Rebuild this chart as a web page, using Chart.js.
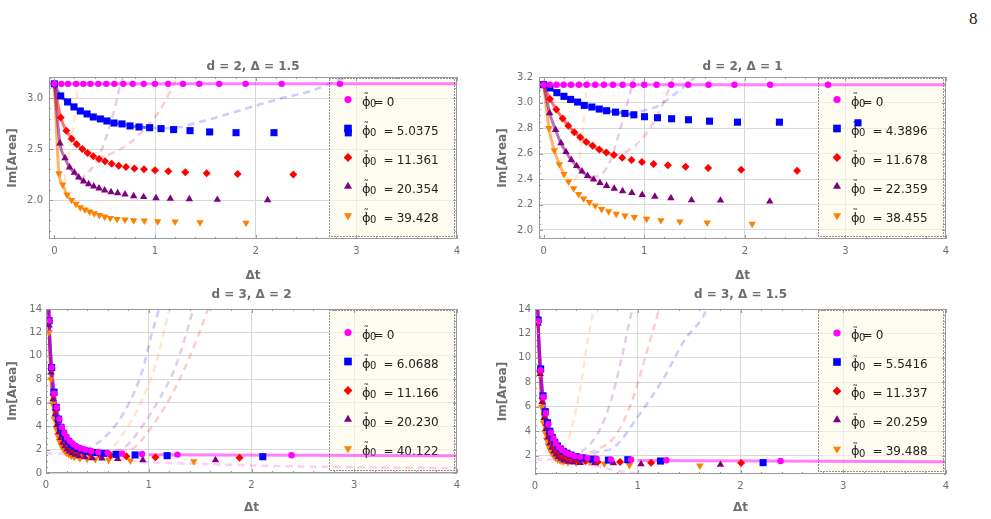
<!DOCTYPE html>
<html>
<head>
<meta charset="utf-8">
<title>Im[Area] vs Δt</title>
<script src="https://cdn.jsdelivr.net/npm/chart.js@4.4.1/dist/chart.umd.min.js"></script>
<style>
  html, body { margin: 0; padding: 0; background: #fff; }
  body { position: relative; width: 991px; height: 519px; overflow: hidden; }
  .panel { position: absolute; }
  #pageNo { position: absolute; left: 969px; top: 9px; font: 17px "Liberation Serif", "DejaVu Serif", serif; color: #222; }
</style>
</head>
<body>
<div id="pageNo">8</div>
<canvas id="p1" class="panel" width="475" height="235" style="left:0px;top:50px"></canvas>
<canvas id="p2" class="panel" width="474" height="235" style="left:490px;top:50px"></canvas>
<canvas id="p3" class="panel" width="475" height="239" style="left:0px;top:280px"></canvas>
<canvas id="p4" class="panel" width="474" height="239" style="left:490px;top:280px"></canvas>
<script>
// ---- data ----
const seriesColors = ['#ff00ff', '#0000ff', '#ff0000', '#800080', '#ff8000'];
const fitColors = ['rgba(255,0,255,0.5)', 'rgba(0,0,255,0.5)', 'rgba(255,0,0,0.55)', 'rgba(128,0,128,0.55)', 'rgba(255,128,0,0.6)'];
const dashColors = ['rgba(255,0,255,0.2)', 'rgba(0,0,255,0.2)', 'rgba(255,0,0,0.2)', 'rgba(128,0,128,0.2)', 'rgba(255,128,0,0.2)'];
const markerStyles = ['circle', 'rect', 'rectRot', 'triangle', 'triangle'];
const markerRotations = [0, 0, 0, 0, 180];
const markerRadii = [3.2, 5, 4, 4.3, 4.3];

const xTicks = [0, 1, 2, 3, 4];

// d = 2, Δ = 1.5
const p1Title = 'd = 2, \u0394 = 1.5';
const p1Phi = ['0', '5.0375', '11.361', '20.354', '39.428'];
const p1YTicks = [2.0, 2.5, 3.0];
const p1MagX = [0, 0.07, 0.136, 0.216, 0.288, 0.358, 0.437, 0.516, 0.596, 0.685, 0.778, 0.888, 1.0, 1.13, 1.278, 1.44, 1.638, 1.9, 2.258, 2.837];
const p1MagY = [3.1416, 3.1416, 3.1416, 3.1416, 3.1416, 3.1416, 3.1416, 3.1416, 3.1416, 3.1416, 3.1416, 3.1416, 3.1416, 3.1416, 3.1416, 3.1416, 3.1416, 3.1416, 3.1416, 3.1416];
const p1BluX = [0, 0.063, 0.132, 0.195, 0.258, 0.325, 0.387, 0.457, 0.523, 0.593, 0.672, 0.752, 0.841, 0.947, 1.06, 1.185, 1.348, 1.543, 1.805, 2.182, 2.92];
const p1BluY = [3.1416, 3.023, 2.964, 2.915, 2.875, 2.846, 2.816, 2.797, 2.777, 2.757, 2.748, 2.728, 2.718, 2.711, 2.702, 2.692, 2.682, 2.669, 2.662, 2.662, 2.66];
const p1RedX = [0, 0.063, 0.119, 0.172, 0.222, 0.278, 0.331, 0.387, 0.444, 0.503, 0.57, 0.639, 0.712, 0.795, 0.891, 1.0, 1.132, 1.301, 1.513, 1.821, 2.374];
const p1RedY = [3.1416, 2.81, 2.682, 2.603, 2.548, 2.502, 2.462, 2.43, 2.403, 2.38, 2.357, 2.338, 2.325, 2.311, 2.302, 2.292, 2.282, 2.272, 2.262, 2.256, 2.252];
const p1PurX = [0, 0.056, 0.106, 0.152, 0.199, 0.242, 0.291, 0.341, 0.391, 0.444, 0.5, 0.563, 0.629, 0.702, 0.788, 0.887, 1.01, 1.152, 1.341, 1.619, 2.119];
const p1PurY = [3.1416, 2.557, 2.413, 2.321, 2.269, 2.223, 2.184, 2.157, 2.134, 2.115, 2.095, 2.079, 2.069, 2.056, 2.039, 2.03, 2.02, 2.013, 2.01, 2.003, 2.0];
const p1OrgX = [0, 0.046, 0.083, 0.126, 0.172, 0.215, 0.258, 0.305, 0.351, 0.397, 0.447, 0.5, 0.556, 0.623, 0.702, 0.788, 0.894, 1.026, 1.199, 1.447, 1.904];
const p1OrgY = [3.1416, 2.262, 2.151, 2.052, 2.0, 1.961, 1.928, 1.905, 1.885, 1.869, 1.852, 1.836, 1.823, 1.813, 1.807, 1.8, 1.797, 1.79, 1.787, 1.78, 1.774];
const p1FitEnd = [0, 14, 7, 7, 5];
const p1MagLineX = [-0.06, 4.0];
const p1MagLineY = [3.1416, 3.1416];
const p1BluDashX = [0.85, 1.05, 1.23, 1.45, 1.56, 1.89, 2.23, 2.56, 2.77, 2.95, 3.1];
const p1BluDashY = [2.72, 2.706, 2.715, 2.77, 2.797, 2.895, 2.993, 3.075, 3.16, 3.22, 3.28];
const p1RedDashX = [0.42, 0.503, 0.57, 0.735, 0.9, 1.066, 1.232, 1.3];
const p1RedDashY = [2.41, 2.436, 2.459, 2.551, 2.7, 2.911, 3.24, 3.4];
const p1PurDashX = [0.255, 0.404, 0.455, 0.503, 0.603, 0.653, 0.72];
const p1PurDashY = [2.194, 2.354, 2.458, 2.584, 2.911, 3.12, 3.3];
const p1OrgDashX = [0.1, 0.156, 0.205, 0.238, 0.26];
const p1OrgDashY = [2.18, 2.518, 2.846, 3.141, 3.3];

// d = 2, Δ = 1
const p2Title = 'd = 2, \u0394 = 1';
const p2Phi = ['0', '4.3896', '11.678', '22.359', '38.455'];
const p2YTicks = [2.0, 2.2, 2.4, 2.6, 2.8, 3.0, 3.2];
const p2MagX = [0, 0.063, 0.129, 0.199, 0.272, 0.351, 0.427, 0.513, 0.599, 0.689, 0.785, 0.887, 1.0, 1.123, 1.268, 1.437, 1.639, 1.897, 2.252, 2.827];
const p2MagY = [3.1416, 3.1416, 3.1416, 3.1416, 3.1416, 3.1416, 3.1416, 3.1416, 3.1416, 3.1416, 3.1416, 3.1416, 3.1416, 3.1416, 3.1416, 3.1416, 3.1416, 3.1416, 3.1416, 3.1416];
const p2BluX = [0, 0.063, 0.132, 0.202, 0.268, 0.338, 0.404, 0.48, 0.553, 0.626, 0.715, 0.808, 0.897, 1.003, 1.132, 1.272, 1.44, 1.649, 1.927, 2.344, 3.125];
const p2BluY = [3.1416, 3.116, 3.079, 3.05, 3.026, 3.005, 2.979, 2.966, 2.95, 2.937, 2.926, 2.916, 2.905, 2.89, 2.882, 2.874, 2.866, 2.855, 2.847, 2.847, 2.842];
const p2RedX = [0, 0.063, 0.126, 0.189, 0.245, 0.305, 0.364, 0.424, 0.487, 0.553, 0.623, 0.699, 0.781, 0.874, 0.977, 1.093, 1.235, 1.411, 1.636, 1.964, 2.52];
const p2RedY = [3.1416, 3.029, 2.947, 2.876, 2.818, 2.768, 2.729, 2.692, 2.661, 2.632, 2.608, 2.589, 2.568, 2.55, 2.534, 2.518, 2.508, 2.497, 2.487, 2.474, 2.466];
const p2PurX = [0, 0.06, 0.119, 0.172, 0.222, 0.275, 0.328, 0.381, 0.437, 0.497, 0.56, 0.626, 0.702, 0.785, 0.877, 0.98, 1.106, 1.265, 1.47, 1.758, 2.248];
const p2PurY = [3.1416, 2.918, 2.787, 2.682, 2.613, 2.55, 2.503, 2.461, 2.426, 2.397, 2.371, 2.347, 2.326, 2.305, 2.292, 2.276, 2.263, 2.25, 2.234, 2.232, 2.224];
const p2OrgX = [0, 0.053, 0.106, 0.156, 0.202, 0.248, 0.298, 0.348, 0.397, 0.454, 0.513, 0.576, 0.646, 0.722, 0.808, 0.901, 1.023, 1.166, 1.354, 1.626, 2.073];
const p2OrgY = [3.1416, 2.8, 2.626, 2.516, 2.439, 2.379, 2.326, 2.282, 2.247, 2.218, 2.192, 2.163, 2.145, 2.126, 2.113, 2.1, 2.087, 2.076, 2.066, 2.058, 2.047];
const p2FitEnd = [0, 13, 12, 10, 5];
const p2MagLineX = [-0.06, 4.0];
const p2MagLineY = [3.1416, 3.1416];
const p2BluDashX = [0.85, 0.907, 1.106, 1.305, 1.503, 1.55];
const p2BluDashY = [2.905, 2.924, 2.963, 3.068, 3.2, 3.24];
const p2RedDashX = [0.69, 0.81, 0.974, 1.139, 1.288, 1.33];
const p2RedDashY = [2.587, 2.61, 2.713, 2.911, 3.2, 3.3];
const p2PurDashX = [0.478, 0.576, 0.675, 0.775, 0.874, 0.92];
const p2PurDashY = [2.416, 2.437, 2.568, 2.832, 3.121, 3.25];
const p2OrgDashX = [0.21, 0.26, 0.3, 0.344, 0.377, 0.41, 0.437, 0.45];
const p2OrgDashY = [2.44, 2.39, 2.39, 2.463, 2.7, 2.963, 3.2, 3.3];

// d = 3, Δ = 2
const p3Title = 'd = 3, \u0394 = 2';
const p3Phi = ['0', '6.0688', '11.166', '20.230', '40.122'];
const p3YTicks = [0, 2, 4, 6, 8, 10, 12, 14];
const p3MagX = [0.03, 0.055, 0.08, 0.105, 0.13, 0.155, 0.18, 0.205, 0.235, 0.265, 0.3, 0.34, 0.385, 0.44, 0.51, 0.6, 0.74, 0.935, 1.279, 2.39];
const p3MagY = [13.0, 9.0, 6.8, 5.6, 4.6, 3.9, 3.4, 3.0, 2.7, 2.45, 2.25, 2.1, 1.98, 1.88, 1.8, 1.72, 1.65, 1.62, 1.57, 1.52];
const p3BluX = [0.03, 0.055, 0.078, 0.1, 0.122, 0.145, 0.168, 0.192, 0.218, 0.245, 0.275, 0.31, 0.35, 0.4, 0.48, 0.562, 0.682, 0.867, 1.179, 2.11];
const p3BluY = [13.0, 9.0, 6.9, 5.6, 4.6, 3.9, 3.4, 3.0, 2.7, 2.45, 2.25, 2.1, 1.97, 1.85, 1.75, 1.68, 1.59, 1.54, 1.48, 1.39];
const p3RedX = [0.03, 0.053, 0.074, 0.095, 0.115, 0.136, 0.157, 0.178, 0.2, 0.224, 0.25, 0.28, 0.315, 0.36, 0.43, 0.52, 0.627, 0.782, 1.065, 1.883];
const p3RedY = [13.0, 8.9, 6.7, 5.4, 4.5, 3.8, 3.3, 2.9, 2.6, 2.35, 2.15, 1.98, 1.85, 1.72, 1.62, 1.56, 1.52, 1.42, 1.34, 1.31];
const p3PurX = [0.03, 0.05, 0.07, 0.09, 0.108, 0.126, 0.145, 0.164, 0.184, 0.205, 0.228, 0.254, 0.283, 0.32, 0.38, 0.45, 0.545, 0.698, 0.942, 1.649];
const p3PurY = [12.6, 8.6, 6.3, 5.0, 4.1, 3.5, 3.0, 2.6, 2.3, 2.05, 1.85, 1.7, 1.58, 1.45, 1.35, 1.28, 1.25, 1.2, 1.11, 1.11];
const p3OrgX = [0.03, 0.048, 0.065, 0.082, 0.098, 0.114, 0.13, 0.147, 0.164, 0.182, 0.2, 0.222, 0.246, 0.275, 0.33, 0.4, 0.48, 0.61, 0.821, 1.438];
const p3OrgY = [12.0, 8.0, 5.9, 4.6, 3.8, 3.2, 2.75, 2.4, 2.1, 1.9, 1.72, 1.58, 1.45, 1.35, 1.25, 1.2, 1.17, 1.11, 1.05, 1.0];
const p3FitEnd = [14, 14, 14, 14, 14];
const p3FitLead = [0.026, 14.6];
const p3MagLineX = [1.0, 4.0];
const p3MagLineY = [1.56, 1.47];
const p3MagDashX = [0, 0.2, 0.4, 0.6, 0.8, 1.0, 1.5, 2.0, 2.5, 3.0, 3.5, 4.0];
const p3MagDashY = [1.68, 1.65, 1.5, 1.25, 1.05, 0.93, 0.78, 0.65, 0.56, 0.5, 0.45, 0.42];
const p3BluDashX = [0.38, 0.448, 0.61, 0.773, 0.935, 1.03, 1.097, 1.12];
const p3BluDashY = [2.0, 2.25, 3.39, 5.38, 8.65, 11.9, 13.9, 14.6];
const p3RedDashX = [0.6, 0.75, 0.87, 1.03, 1.195, 1.357, 1.568, 1.59];
const p3RedDashY = [1.75, 1.9, 2.25, 3.96, 6.23, 9.08, 13.8, 14.4];
const p3PurDashX = [0.55, 0.66, 0.773, 0.935, 1.097, 1.26, 1.42, 1.44];
const p3PurDashY = [1.7, 1.85, 2.25, 3.96, 6.23, 9.08, 13.6, 14.3];
const p3OrgDashX = [0.45, 0.61, 0.69, 0.773, 0.935, 1.097, 1.195, 1.22];
const p3OrgDashY = [1.6, 1.96, 2.6, 3.67, 6.23, 10.2, 13.8, 14.6];

// d = 3, Δ = 1.5
const p4Title = 'd = 3, \u0394 = 1.5';
const p4Phi = ['0', '5.5416', '11.337', '20.259', '39.488'];
const p4YTicks = [2, 4, 6, 8, 10, 12, 14];
const p4MagX = [0.03, 0.055, 0.08, 0.105, 0.13, 0.155, 0.18, 0.205, 0.235, 0.265, 0.3, 0.34, 0.385, 0.44, 0.51, 0.6, 0.74, 0.935, 1.279, 2.39];
const p4MagY = [13.0, 9.0, 6.8, 5.5, 4.6, 3.9, 3.4, 3.0, 2.7, 2.45, 2.25, 2.1, 1.98, 1.9, 1.82, 1.75, 1.68, 1.67, 1.62, 1.56];
const p4BluX = [0.03, 0.055, 0.078, 0.1, 0.122, 0.145, 0.168, 0.192, 0.218, 0.245, 0.275, 0.31, 0.35, 0.4, 0.46, 0.56, 0.714, 0.903, 1.221, 2.22];
const p4BluY = [13.1, 9.1, 6.9, 5.6, 4.7, 4.0, 3.5, 3.1, 2.8, 2.55, 2.35, 2.2, 2.05, 1.92, 1.82, 1.72, 1.64, 1.67, 1.56, 1.43];
const p4RedX = [0.03, 0.053, 0.074, 0.095, 0.115, 0.136, 0.157, 0.178, 0.2, 0.224, 0.25, 0.28, 0.315, 0.36, 0.41, 0.49, 0.61, 0.828, 1.13, 2.006];
const p4RedY = [13.0, 8.9, 6.7, 5.4, 4.5, 3.8, 3.3, 2.9, 2.6, 2.35, 2.15, 2.0, 1.86, 1.75, 1.65, 1.56, 1.48, 1.48, 1.43, 1.4];
const p4PurX = [0.03, 0.05, 0.07, 0.09, 0.108, 0.126, 0.145, 0.164, 0.184, 0.205, 0.228, 0.254, 0.283, 0.32, 0.37, 0.44, 0.58, 0.763, 1.032, 1.805];
const p4PurY = [12.8, 8.7, 6.4, 5.1, 4.2, 3.5, 3.0, 2.65, 2.35, 2.1, 1.9, 1.75, 1.62, 1.52, 1.45, 1.42, 1.4, 1.4, 1.32, 1.26];
const p4OrgX = [0.03, 0.048, 0.065, 0.082, 0.098, 0.114, 0.13, 0.147, 0.164, 0.182, 0.2, 0.222, 0.246, 0.275, 0.32, 0.4, 0.536, 0.675, 0.919, 1.604];
const p4OrgY = [12.9, 8.7, 6.0, 4.7, 3.9, 3.3, 2.85, 2.5, 2.2, 2.0, 1.82, 1.68, 1.58, 1.5, 1.45, 1.42, 1.48, 1.34, 1.23, 1.18];
const p4FitEnd = [14, 14, 14, 14, 14];
const p4FitLead = [0.026, 14.6];
const p4MagLineX = [1.0, 4.0];
const p4MagLineY = [1.6, 1.51];
const p4MagDashX = [0, 0.3, 0.45, 0.6, 0.75, 0.93, 1.1, 1.3];
const p4MagDashY = [1.7, 1.65, 1.45, 1.15, 0.85, 0.62, 0.45, 0.3];
const p4BluDashX = [0.45, 0.61, 0.773, 1.0, 1.26, 1.455, 1.65, 1.68];
const p4BluDashY = [1.9, 2.3, 2.71, 5.17, 8.45, 11.45, 13.6, 14.3];
const p4RedDashX = [0.42, 0.545, 0.773, 0.935, 1.065, 1.195, 1.22];
const p4RedDashY = [1.85, 2.3, 3.53, 6.26, 9.8, 13.6, 14.3];
const p4PurDashX = [0.35, 0.45, 0.61, 0.74, 0.838, 0.935, 0.96];
const p4PurDashY = [1.8, 2.3, 3.8, 6.5, 9.8, 13.6, 14.5];
const p4OrgDashX = [0.2, 0.27, 0.351, 0.448, 0.513, 0.562, 0.58];
const p4OrgDashY = [1.8, 2.44, 4.08, 7.9, 11.45, 13.6, 14.5];

// ---- helpers ----
function pts(xs, ys) {
  return xs.map((x, i) => ({ x: x, y: ys[i] }));
}

function pointSet(i, xs, ys) {
  return {
    data: pts(xs, ys),
    pointStyle: markerStyles[i],
    rotation: markerRotations[i],
    pointRadius: markerRadii[i],
    pointHoverRadius: markerRadii[i],
    backgroundColor: seriesColors[i],
    borderWidth: 0,
    order: 0
  };
}

function lineSet(color, data, dashed) {
  return {
    data: data,
    showLine: true,
    pointRadius: 0,
    borderColor: color,
    borderWidth: dashed ? 2.5 : 3,
    borderDash: dashed ? [7, 5] : [],
    cubicInterpolationMode: 'monotone',
    clip: 0,
    order: dashed ? 2 : 1
  };
}

// legend box drawn inside the plot, under the markers
const insetLegend = {
  id: 'insetLegend',
  beforeDatasetsDraw(chart, args, opts) {
    const { ctx, chartArea: a } = chart;
    const L = a.right - 128, R = a.right - 2, T = a.top + 1, B = a.bottom - 2;
    ctx.save();
    ctx.fillStyle = 'rgba(255, 252, 232, 0.6)';
    ctx.fillRect(L, T, R - L, B - T);
    ctx.strokeStyle = '#222';
    ctx.lineWidth = 1;
    ctx.setLineDash([1, 2]);
    ctx.strokeRect(Math.round(L) + 0.5, Math.round(T) + 0.5, Math.round(R - L) - 1, Math.round(B - T) - 1);
    ctx.setLineDash([]);
    const mid = (T + B) / 2;
    opts.labels.forEach((lab, i) => {
      const y = mid + (i - 2) * 29;
      const ds = chart.data.datasets[i];
      ctx.fillStyle = ds.backgroundColor;
      Chart.helpers.drawPoint(ctx, { pointStyle: ds.pointStyle, rotation: ds.rotation, radius: ds.pointRadius + 0.4, borderWidth: 0 }, a.right - 109, y);
      ctx.fillStyle = '#222';
      ctx.textBaseline = 'alphabetic';
      // phi with a tilde on top and a subscript 0
      const phiX = a.right - 95;
      ctx.textAlign = 'left';
      ctx.font = '13px "DejaVu Sans"';
      const phiW = ctx.measureText('\u03D5').width;
      ctx.fillText('\u03D5', phiX, y + 6);
      ctx.textAlign = 'center';
      ctx.font = '11px "DejaVu Sans"';
      ctx.fillText('\u02DC', phiX + phiW / 2, y + 1.5);
      ctx.textAlign = 'left';
      ctx.font = '10px "DejaVu Sans"';
      ctx.fillText('0', phiX + phiW - 0.5, y + 7.5);
      ctx.font = '12px "DejaVu Sans"';
      const eqX = i === 0 ? a.right - 82 : a.right - 72;
      ctx.fillText('=', eqX - 1.5, y + 6);
      ctx.fillText(lab, eqX + 11.7, y + 6);
    });
    ctx.restore();
  }
};

// frame with inward major/minor ticks on all four sides
const frameTicks = {
  id: 'frameTicks',
  afterDatasetsDraw(chart, args, opts) {
    const { ctx, chartArea: a, scales } = chart;
    const xs = scales.x, ys = scales.y;
    const isMajor = (v, step) => Math.abs(v / step - Math.round(v / step)) < 1e-6;
    ctx.save();
    ctx.strokeStyle = '#9a9a9a';
    ctx.lineWidth = 1;
    ctx.beginPath();
    for (let k = Math.ceil(xs.min / opts.minorX - 1e-6); k * opts.minorX <= xs.max + 1e-6; k++) {
      const v = k * opts.minorX;
      const len = isMajor(v, 1) ? 4 : 2;
      const px = Math.round(xs.getPixelForValue(v)) + 0.5;
      ctx.moveTo(px, a.bottom); ctx.lineTo(px, a.bottom - len);
      ctx.moveTo(px, a.top); ctx.lineTo(px, a.top + len);
    }
    for (let k = Math.ceil(ys.min / opts.minorY - 1e-6); k * opts.minorY <= ys.max + 1e-6; k++) {
      const v = k * opts.minorY;
      const len = isMajor(v, opts.majorY) ? 4 : 2;
      const py = Math.round(ys.getPixelForValue(v)) + 0.5;
      ctx.moveTo(a.left, py); ctx.lineTo(a.left + len, py);
      ctx.moveTo(a.right, py); ctx.lineTo(a.right - len, py);
    }
    ctx.stroke();
    ctx.strokeRect(Math.round(a.left) + 0.5, Math.round(a.top) + 0.5, Math.round(a.width) - 1, Math.round(a.height) - 1);
    ctx.restore();
  }
};

function buildPanel(id, spec) {
  const xsAll = [spec.magX, spec.bluX, spec.redX, spec.purX, spec.orgX];
  const ysAll = [spec.magY, spec.bluY, spec.redY, spec.purY, spec.orgY];
  const datasets = xsAll.map((xs, i) => pointSet(i, xs, ysAll[i]));
  xsAll.forEach((xs, i) => {
    const n = spec.fitEnd[i];
    if (n > 0) {
      let fit = pts(xs.slice(0, n), ysAll[i].slice(0, n));
      if (spec.fitLead) fit = [{ x: spec.fitLead[0], y: spec.fitLead[1] }].concat(fit);
      datasets.push(lineSet(fitColors[i], fit, false));
    }
  });
  datasets.push(lineSet(fitColors[0], pts(spec.magLineX, spec.magLineY), false));
  if (spec.magDashX) datasets.push(lineSet(dashColors[0], pts(spec.magDashX, spec.magDashY), true));
  datasets.push(lineSet(dashColors[1], pts(spec.bluDashX, spec.bluDashY), true));
  datasets.push(lineSet(dashColors[2], pts(spec.redDashX, spec.redDashY), true));
  datasets.push(lineSet(dashColors[3], pts(spec.purDashX, spec.purDashY), true));
  datasets.push(lineSet(dashColors[4], pts(spec.orgDashX, spec.orgDashY), true));

  const gray = '#6e6e6e';
  const ctx = document.getElementById(id).getContext('2d');
  return new Chart(ctx, {
    type: 'scatter',
    data: { datasets: datasets },
    plugins: [insetLegend, frameTicks],
    options: {
      responsive: false,
      animation: false,
      events: [],
      layout: { padding: { left: 0, right: 18, top: 0, bottom: 0 } },
      plugins: {
        legend: { display: false },
        tooltip: { enabled: false },
        title: {
          display: true,
          fullSize: false,
          text: spec.title,
          color: gray,
          font: { family: 'DejaVu Sans', size: 12, weight: 'bold' },
          padding: { top: spec.titleTop, bottom: spec.titleBottom }
        },
        insetLegend: { labels: spec.labels },
        frameTicks: { minorX: 0.2, majorY: spec.yMajor, minorY: spec.yMinor }
      },
      scales: {
        x: {
          type: 'linear',
          min: spec.xMin,
          max: 4,
          afterFit: (s) => { s.height = spec.xAxisH; },
          afterBuildTicks: (s) => { s.ticks = xTicks.map(v => ({ value: v })); },
          border: { display: false },
          grid: {
            drawTicks: false,
            lineWidth: 1,
            color: (c) => (c.tick && (c.tick.value <= 0 || c.tick.value >= 4)) ? 'rgba(0,0,0,0)' : '#d8d8d8'
          },
          ticks: {
            padding: 6,
            maxRotation: 0,
            color: gray,
            font: { family: 'DejaVu Sans', size: 10 },
            callback: (v) => String(v)
          },
          title: {
            display: true,
            text: '\u0394t',
            color: gray,
            font: { family: 'DejaVu Sans', size: 12, weight: 'bold' },
            padding: { top: 0, bottom: spec.xTitlePad }
          }
        },
        y: {
          type: 'linear',
          min: spec.yMin,
          max: spec.yMax,
          afterFit: (s) => { s.width = spec.yAxisW; },
          afterBuildTicks: (s) => { s.ticks = spec.yTicks.map(v => ({ value: v })); },
          border: { display: false },
          grid: { drawTicks: false, lineWidth: 1, color: '#d8d8d8' },
          ticks: {
            padding: spec.yPad,
            color: gray,
            font: { family: 'DejaVu Sans', size: 10 },
            callback: (v) => spec.yDigits ? Number(v).toFixed(spec.yDigits) : String(v)
          },
          title: {
            display: true,
            text: 'Im[Area]',
            color: gray,
            font: { family: 'DejaVu Sans', size: 12, weight: 'bold' },
            padding: { top: 6, bottom: 0 }
          }
        }
      }
    }
  });
}

buildPanel('p1', {
  title: p1Title, labels: p1Phi, yTicks: p1YTicks, yDigits: 1,
  xMin: -0.053, yMin: 1.617, yMax: 3.209, yMajor: 0.5, yMinor: 0.1,
  yAxisW: 49, xAxisH: 46, xTitlePad: 1.8, yPad: 6, titleTop: 9.8, titleBottom: 2.8,
  magX: p1MagX, magY: p1MagY, bluX: p1BluX, bluY: p1BluY, redX: p1RedX, redY: p1RedY,
  purX: p1PurX, purY: p1PurY, orgX: p1OrgX, orgY: p1OrgY, fitEnd: p1FitEnd,
  magLineX: p1MagLineX, magLineY: p1MagLineY,
  bluDashX: p1BluDashX, bluDashY: p1BluDashY, redDashX: p1RedDashX, redDashY: p1RedDashY,
  purDashX: p1PurDashX, purDashY: p1PurDashY, orgDashX: p1OrgDashX, orgDashY: p1OrgDashY
});

buildPanel('p2', {
  title: p2Title, labels: p2Phi, yTicks: p2YTicks, yDigits: 1,
  xMin: -0.046, yMin: 1.929, yMax: 3.202, yMajor: 0.2, yMinor: 0.05,
  yAxisW: 49, xAxisH: 46, xTitlePad: 1.8, yPad: 6, titleTop: 9.8, titleBottom: 2.8,
  magX: p2MagX, magY: p2MagY, bluX: p2BluX, bluY: p2BluY, redX: p2RedX, redY: p2RedY,
  purX: p2PurX, purY: p2PurY, orgX: p2OrgX, orgY: p2OrgY, fitEnd: p2FitEnd,
  magLineX: p2MagLineX, magLineY: p2MagLineY,
  bluDashX: p2BluDashX, bluDashY: p2BluDashY, redDashX: p2RedDashX, redDashY: p2RedDashY,
  purDashX: p2PurDashX, purDashY: p2PurDashY, orgDashX: p2OrgDashX, orgDashY: p2OrgDashY
});

buildPanel('p3', {
  title: p3Title, labels: p3Phi, yTicks: p3YTicks, yDigits: 0,
  xMin: 0, yMin: 0, yMax: 14, yMajor: 2, yMinor: 0.5,
  yAxisW: 46, xAxisH: 46, xTitlePad: 3.8, yPad: 4, titleTop: 7.8, titleBottom: 6.8,
  magX: p3MagX, magY: p3MagY, bluX: p3BluX, bluY: p3BluY, redX: p3RedX, redY: p3RedY,
  purX: p3PurX, purY: p3PurY, orgX: p3OrgX, orgY: p3OrgY, fitEnd: p3FitEnd, fitLead: p3FitLead,
  magLineX: p3MagLineX, magLineY: p3MagLineY, magDashX: p3MagDashX, magDashY: p3MagDashY,
  bluDashX: p3BluDashX, bluDashY: p3BluDashY, redDashX: p3RedDashX, redDashY: p3RedDashY,
  purDashX: p3PurDashX, purDashY: p3PurDashY, orgDashX: p3OrgDashX, orgDashY: p3OrgDashY
});

buildPanel('p4', {
  title: p4Title, labels: p4Phi, yTicks: p4YTicks, yDigits: 0,
  xMin: 0, yMin: 0.5, yMax: 14, yMajor: 2, yMinor: 0.5,
  yAxisW: 45, xAxisH: 45, xTitlePad: 3.8, yPad: 4, titleTop: 7.8, titleBottom: 6.8,
  magX: p4MagX, magY: p4MagY, bluX: p4BluX, bluY: p4BluY, redX: p4RedX, redY: p4RedY,
  purX: p4PurX, purY: p4PurY, orgX: p4OrgX, orgY: p4OrgY, fitEnd: p4FitEnd, fitLead: p4FitLead,
  magLineX: p4MagLineX, magLineY: p4MagLineY, magDashX: p4MagDashX, magDashY: p4MagDashY,
  bluDashX: p4BluDashX, bluDashY: p4BluDashY, redDashX: p4RedDashX, redDashY: p4RedDashY,
  purDashX: p4PurDashX, purDashY: p4PurDashY, orgDashX: p4OrgDashX, orgDashY: p4OrgDashY
});
</script>
</body>
</html>
